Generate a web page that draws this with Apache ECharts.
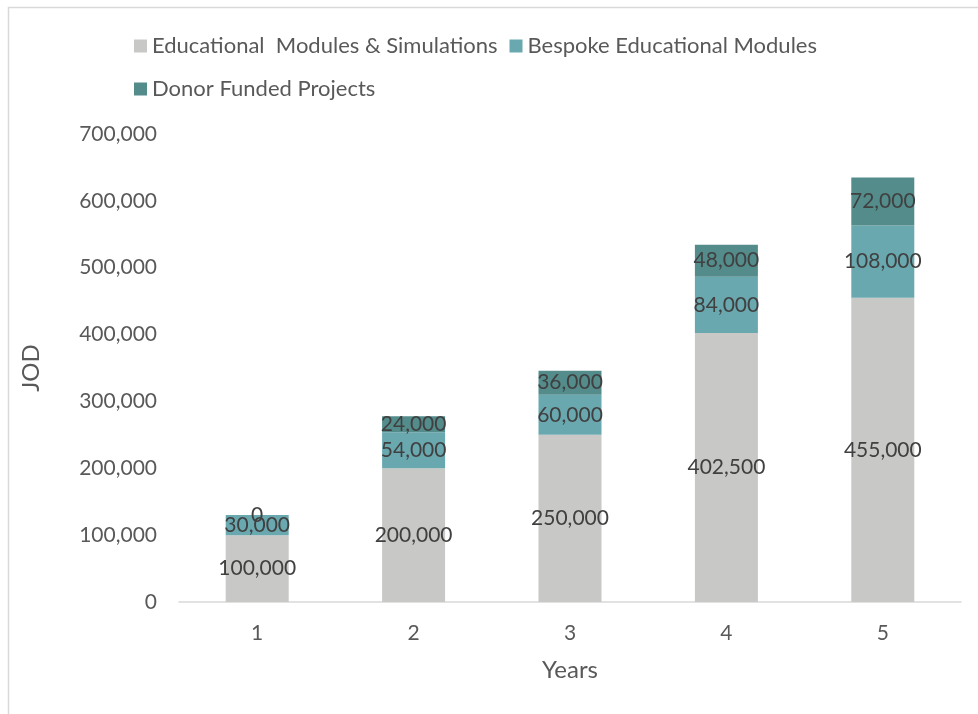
<!DOCTYPE html>
<html><head><meta charset="utf-8">
<script src="https://cdn.jsdelivr.net/npm/echarts@6/dist/echarts.min.js"></script>
<style>html,body{margin:0;padding:0;background:#fff}#c{width:978px;height:714px}</style>
</head><body><div id="c"></div>
<script>
const years = ['1','2','3','4','5'];
const seriesNames = ['Educational  Modules & Simulations','Bespoke Educational Modules','Donor Funded Projects'];
const eduModules = [100000, 200000, 250000, 402500, 455000];
const bespoke = [30000, 54000, 60000, 84000, 108000];
const donor = [0, 24000, 36000, 48000, 72000];
const yTicks = [0,100000,200000,300000,400000,500000,600000,700000];
const colors = ['#C8C8C6','#6AA8B0','#548C8C'];
const FONT = 'Lato';
const fmt = v => v.toLocaleString('en-US');
const chart = echarts.init(document.getElementById('c'));
function mk(name, data, color){
  return {name, type:'bar', stack:'t', data, barWidth:63, itemStyle:{color},
    label:{show:true, position:'inside', formatter:p=>fmt(p.value), color:'#404040', fontFamily:FONT, fontSize:21}};
}
chart.setOption({
  animation:false,
  textStyle:{fontFamily:FONT},
  graphic:[{type:'rect', shape:{x:8.5,y:7.5,width:1000,height:1000}, style:{fill:null, stroke:'#D9D9D9', lineWidth:1.5}, silent:true, z:-1}],
  legend:[
    {data:[seriesNames[0],seriesNames[1]], left:129, top:30, itemWidth:13, itemHeight:13, itemGap:12, icon:'rect',
      textStyle:{fontSize:22, color:'#595959', fontFamily:FONT}},
    {data:[seriesNames[2]], left:129, top:73, itemWidth:13, itemHeight:13, icon:'rect',
      textStyle:{fontSize:22, color:'#595959', fontFamily:FONT}}
  ],
  grid:{left:179, right:17, top:134, bottom:112},
  xAxis:{type:'category', data:years, name:'Years', nameLocation:'middle', nameGap:56,
    nameTextStyle:{fontSize:24, color:'#595959', fontFamily:FONT},
    axisLine:{lineStyle:{color:'#D9D9D9', width:1.5}}, axisTick:{show:false},
    axisLabel:{fontSize:21, color:'#595959', margin:21, fontFamily:FONT}},
  yAxis:{type:'value', min:0, max:700000, interval:100000, name:'JOD', nameLocation:'middle', nameGap:136,
    nameTextStyle:{fontSize:24, color:'#595959', fontFamily:FONT},
    axisLine:{show:false}, axisTick:{show:false}, splitLine:{show:false},
    axisLabel:{fontSize:21, color:'#595959', margin:22, fontFamily:FONT, formatter:v=>fmt(v)}},
  series:[mk(seriesNames[0],eduModules,colors[0]), mk(seriesNames[1],bespoke,colors[1]), mk(seriesNames[2],donor,colors[2])]
});
</script></body></html>
